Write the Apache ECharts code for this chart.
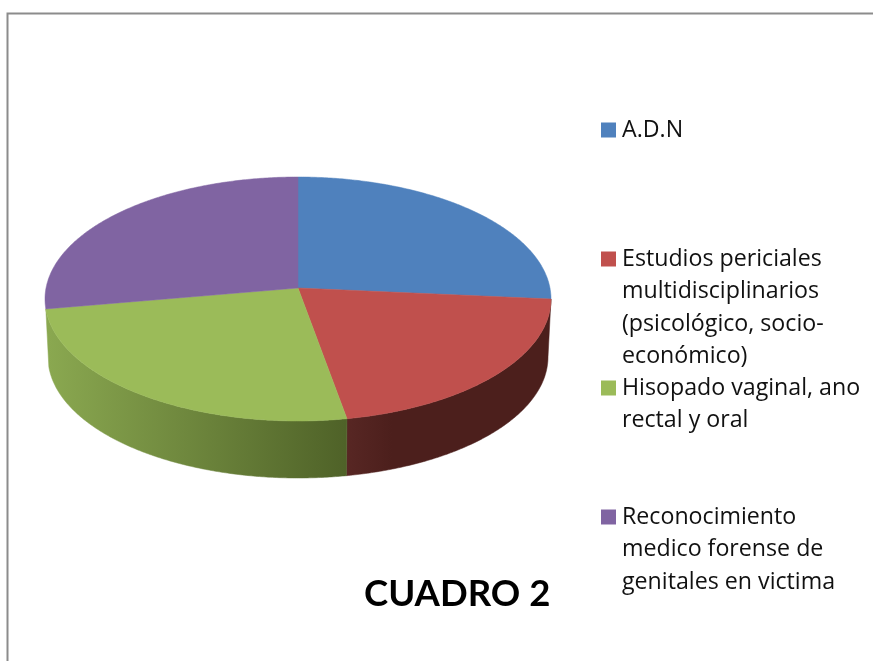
<!DOCTYPE html>
<html>
<head>
<meta charset="utf-8">
<style>
html,body{margin:0;padding:0;background:#fff}
#chart{width:873px;height:661px}
</style>
<script src="https://cdn.jsdelivr.net/npm/echarts@6/dist/echarts.min.js"></script>
</head>
<body>
<div id="chart"></div>
<script>
var categories = [
	'A.D.N',
	'Estudios periciales\nmultidisciplinarios\n(psicológico, socio-\neconómico)',
	'Hisopado vaginal, ano\nrectal y oral',
	'Reconocimiento\nmedico forense de\ngenitales en victima'
];
var values = [25, 21.9, 26.8, 26.3];
var colors = ['#4f81bd', '#c0504d', '#9bbb59', '#8064a2'];
var sideColors = [
	['#2c4d75', '#2c4d75'],
	['#582724', '#4c1f1c'],
	['#8aa850', '#4f6228'],
	['#4d3b62', '#4d3b62']
];
var gradFrom = [298, 346, 48, 45];
var gradTo = [551, 392, 346, 60];
var legendIconY = [130, 259, 388, 517];

// tilted disc, the apex sits above the ellipse centre like in a perspective view
var topFace = { cx: 298, cy: 299, rx: 253, ry: 122 };
var bottomFace = { cx: 298, cy: 357, rx: 250, ry: 121 };
var apex = [298, 288];
var lineH = 32.5;
var textDown = 4.5; // legend text sits a bit lower than the icon centre

var total = values.reduce(function (a, b) { return a + b; }, 0);

function point(face, deg) {
	var r = deg * Math.PI / 180;
	return [face.cx + face.rx * Math.sin(r), face.cy - face.ry * Math.cos(r)];
}

function arc(face, from, to) {
	var pts = [];
	var n = Math.max(2, Math.ceil(Math.abs(to - from) * 2));
	for (var i = 0; i <= n; i++) {
		pts.push(point(face, from + (to - from) * i / n));
	}
	return pts;
}

function renderSlice(idx, params, api) {
	var start = 0;
	for (var i = 0; i < idx; i++) start += values[i];
	var a0 = start / total * 360;
	var a1 = a0 + api.value(0) / total * 360;
	var children = [];

	// only the front of the wall is visible, the purple sliver at the far left is hidden
	var s0 = Math.max(a0, 90), s1 = Math.min(a1, 266);
	if (s1 - s0 > 1) {
		var wall = arc(topFace, s0, s1).concat(arc(bottomFace, s0, s1).reverse());
		var fill = new echarts.graphic.LinearGradient(gradFrom[idx], 0, gradTo[idx], 0, [
			{ offset: 0, color: sideColors[idx][0] },
			{ offset: 1, color: sideColors[idx][1] }
		], true);
		children.push({ type: 'polygon', shape: { points: wall }, style: { fill: fill, stroke: fill, lineWidth: 0.5 } });
	}

	var face = [apex].concat(arc(topFace, a0, a1));
	children.push({
		type: 'polygon',
		shape: { points: face },
		style: { fill: colors[idx], stroke: colors[idx], lineWidth: 0.5 }
	});
	return { type: 'group', children: children };
}

var series = categories.map(function (name, idx) {
	return {
		type: 'custom',
		name: name,
		coordinateSystem: 'none',
		silent: true,
		itemStyle: { color: colors[idx] },
		data: [[values[idx]]],
		renderItem: function (params, api) { return renderSlice(idx, params, api); }
	};
});

// one legend per item: the icon has to stay on the first text line
var legends = categories.map(function (name, idx) {
	var lines = name.split('\n').length;
	return {
		data: [name],
		left: 601,
		top: legendIconY[idx] - ((2 * lines - 1) * lineH + textDown) / 2,
		padding: 0,
		icon: 'rect',
		itemWidth: 15,
		itemHeight: 15,
		selectedMode: false,
		formatter: function (n) { return new Array(lines).join('\n') + n; },
		textStyle: {
			fontFamily: 'Open Sans',
			fontSize: 23.2,
			color: '#111',
			lineHeight: lineH,
			padding: [textDown, 0, 0, 1]
		}
	};
});

var myChart = echarts.init(document.getElementById('chart'), null, { renderer: 'canvas' });
myChart.setOption({
	animation: false,
	backgroundColor: '#fff',
	title: {
		text: 'CUADRO 2',
		left: 364,
		top: 576,
		padding: 0,
		textStyle: { fontFamily: 'Lato', fontSize: 36.5, fontWeight: 'bold', color: '#000' }
	},
	legend: legends,
	graphic: [{
		type: 'polyline',
		silent: true,
		shape: { points: [[7.5, 661], [7.5, 13.5], [873, 13.5]] },
		style: { stroke: '#8c8c8c', lineWidth: 2, fill: null }
	}],
	series: series
});
</script>
</body>
</html>
